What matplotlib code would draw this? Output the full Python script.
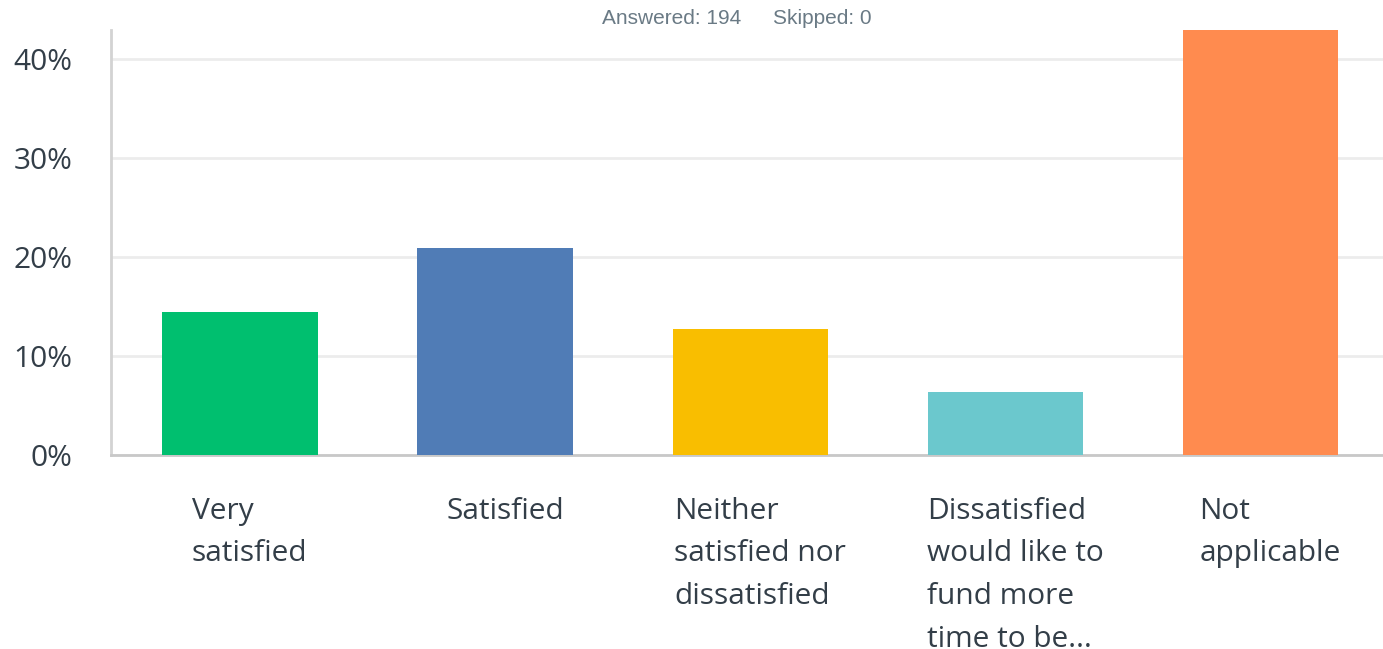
import matplotlib
matplotlib.use('Agg')
import matplotlib.pyplot as plt
from matplotlib.ticker import FuncFormatter

categories = ['Very\nsatisfied', 'Satisfied', 'Neither\nsatisfied nor\ndissatisfied',
              'Dissatisfied\nwould like to\nfund more\ntime to be...', 'Not\napplicable']
values = [14.4, 20.9, 12.7, 6.4, 45.4]
colors = ['#00bf6f', '#507cb6', '#f9be00', '#6bc8cd', '#ff8b4f']
yticks = [0, 10, 20, 30, 40]

plt.rcParams['font.family'] = ['Open Sans', 'DejaVu Sans']
txt = '#333e48'

fig = plt.figure(figsize=(13.83, 6.49), dpi=100)
ax = fig.add_axes([111/1383, 1-455/649, 1272/1383, 425/649])

x = list(range(len(values)))
ax.bar(x, values, width=0.61, color=colors, zorder=3)
ax.set_xlim(-0.506, 4.48)
ax.set_ylim(0, 42.9)
ax.set_yticks(yticks)
ax.yaxis.set_major_formatter(FuncFormatter(lambda v, p: f'{v:.0f}%'))
ax.tick_params(axis='y', length=0, labelsize=21.5, labelcolor=txt, pad=28)
ax.set_xticks([])
ax.grid(axis='y', color='#ececec', linewidth=2, zorder=0)
for s in ['top', 'right']:
    ax.spines[s].set_visible(False)
ax.spines['left'].set_color('#d3d3d3')
ax.spines['left'].set_linewidth(2)
ax.spines['bottom'].set_color('#c8c8c8')
ax.spines['bottom'].set_linewidth(2)

for i, c in enumerate(categories):
    ax.annotate(c, xy=(i, 0), xycoords='data', xytext=(7, -30), textcoords='offset points',
                ha='center', va='top', multialignment='left', fontsize=21.5,
                color=txt, linespacing=1.62, annotation_clip=False)

hdr = dict(fontsize=15, color='#6a7a85', va='center', family=['Liberation Sans', 'DejaVu Sans'])
fig.text(741/1383, 1-18/649, 'Answered: 194', ha='right', **hdr)
fig.text(773/1383, 1-18/649, 'Skipped: 0', ha='left', **hdr)

fig.savefig('out.png', dpi=100)
